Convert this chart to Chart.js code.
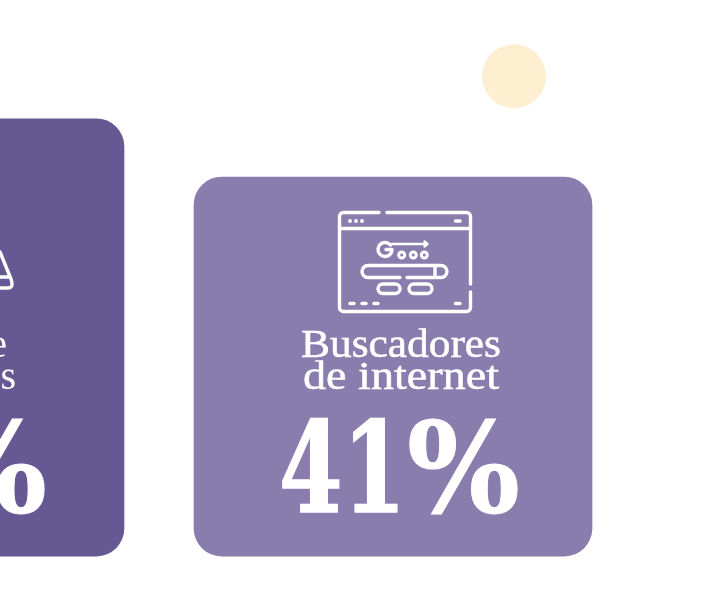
<!DOCTYPE html>
<html lang="es">
<head>
  <meta charset="UTF-8" />
  <title>Buscadores de internet</title>
  <script src="https://cdn.jsdelivr.net/npm/chart.js"></script>
  <style>
    html, body { margin: 0; background: #fff; overflow: hidden; }
    canvas { display: block; }
  </style>
</head>
<body>
  <canvas id="chart" width="712" height="597"></canvas>

  <script>
    // Datos
    const categories = ['Otra fuente', 'Buscadores de internet'];
    const cardSlots = [0, 1];
    const shares = [47.3, 41];
    const cardColors = ['#665993', '#897DAE'];
    const dotX = [1.2585];
    const dotY = [51.9];
    const dotSize = [32];

    const WHITE = '#ffffff';
    const SERIF = '"Liberation Serif", serif';
    const BIG = 'bold 125px "DejaVu Serif", serif';

    // Escribe un texto estirado para que ocupe de left a right
    function fitText(ctx, text, left, right, y, thicken) {
      const w = ctx.measureText(text).width;
      ctx.save();
      ctx.translate(left, y);
      ctx.scale((right - left) / w, 1);
      ctx.textAlign = 'left';
      ctx.fillText(text, 0, 0);
      if (thicken) {
        ctx.strokeStyle = WHITE;
        ctx.lineWidth = thicken;
        ctx.strokeText(text, 0, 0);
      }
      ctx.restore();
    }

    // Icono del navegador y textos de las tarjetas
    const cardLabels = {
      id: 'cardLabels',
      afterDraw(chart) {
        const { ctx } = chart;

        ctx.save();
        ctx.fillStyle = WHITE;
        ctx.textBaseline = 'alphabetic';

        // tarjeta derecha
        ctx.font = '40px ' + SERIF;
        fitText(ctx, 'Buscadores', 301, 501, 357, 0.5);
        fitText(ctx, 'de internet', 303, 499, 389, 0.5);
        ctx.font = BIG;
        fitText(ctx, String(shares[1]), 279, 406, 512, 1.5);
        fitText(ctx, '%', 407, 520, 512, 1);

        // tarjeta izquierda, casi toda fuera de la ventana
        ctx.font = '40px ' + SERIF;
        ctx.textAlign = 'right';
        ctx.fillText('e', 7, 357);
        ctx.fillText('s', 16, 389);
        ctx.font = BIG;
        fitText(ctx, '%', -67, 47, 512, 1);

        drawBrowser(ctx);
        drawLeftIcon(ctx);
        ctx.restore();
      }
    };

    function drawBrowser(ctx) {
      ctx.strokeStyle = WHITE;
      ctx.lineWidth = 3.4;
      ctx.lineCap = 'round';
      ctx.lineJoin = 'round';

      // ventana
      ctx.beginPath();
      ctx.moveTo(379, 212.5);
      ctx.lineTo(343, 212.5);
      ctx.arcTo(339.5, 212.5, 339.5, 216, 4);
      ctx.lineTo(339.5, 308);
      ctx.arcTo(339.5, 311.5, 343, 311.5, 4);
      ctx.lineTo(467, 311.5);
      ctx.arcTo(470.5, 311.5, 470.5, 308, 4);
      ctx.lineTo(470.5, 292);
      ctx.moveTo(470.5, 284);
      ctx.lineTo(470.5, 216);
      ctx.arcTo(470.5, 212.5, 467, 212.5, 4);
      ctx.lineTo(387, 212.5);
      ctx.moveTo(339.5, 228.5);
      ctx.lineTo(470.5, 228.5);
      ctx.stroke();

      // puntos de la cabecera y del pie
      [350, 356, 362].forEach(x => {
        ctx.beginPath();
        ctx.arc(x, 221, 1.9, 0, Math.PI * 2);
        ctx.fill();
      });
      [[455.5, 460, 221], [350, 354, 303.5], [362, 366, 303.5], [374, 378, 303.5], [455.5, 460, 303.5]].forEach(p => {
        ctx.beginPath();
        ctx.moveTo(p[0], p[2]);
        ctx.lineTo(p[1], p[2]);
        ctx.stroke();
      });

      // barra de busqueda
      ctx.beginPath();
      ctx.moveTo(400, 277.5);
      ctx.lineTo(368, 277.5);
      ctx.arcTo(362, 277.5, 362, 271.5, 6);
      ctx.arcTo(362, 265.5, 368, 265.5, 6);
      ctx.lineTo(441, 265.5);
      ctx.arcTo(447, 265.5, 447, 271.5, 6);
      ctx.arcTo(447, 277.5, 441, 277.5, 6);
      ctx.lineTo(407, 277.5);
      ctx.moveTo(435, 265.5);
      ctx.lineTo(435, 277.5);
      ctx.stroke();

      // botones
      [[378, 400], [409, 432]].forEach(b => {
        ctx.beginPath();
        ctx.roundRect(b[0], 284, b[1] - b[0], 9.5, 4.7);
        ctx.stroke();
      });

      // logo
      ctx.lineWidth = 3.4;
      ctx.beginPath();
      ctx.arc(385, 249.5, 7, -0.7, 0, true);
      ctx.lineTo(386, 249.5);
      ctx.stroke();
      ctx.lineWidth = 2.4;
      ctx.beginPath();
      ctx.moveTo(392, 244);
      ctx.lineTo(427, 244);
      ctx.moveTo(424.5, 241.5);
      ctx.lineTo(427.5, 244);
      ctx.lineTo(424.5, 246.5);
      ctx.stroke();
      ctx.lineWidth = 3;
      [401.7, 413.3, 424.3].forEach(x => {
        ctx.beginPath();
        ctx.arc(x, 255, 3, 0, Math.PI * 2);
        ctx.stroke();
      });
    }

    function drawLeftIcon(ctx) {
      ctx.strokeStyle = WHITE;
      ctx.lineWidth = 3.4;
      ctx.lineJoin = 'round';
      ctx.beginPath();
      ctx.moveTo(0, 252);
      ctx.lineTo(11, 279);
      ctx.quadraticCurveTo(14, 288, 8, 288);
      ctx.lineTo(0, 288);
      ctx.moveTo(0, 277);
      ctx.lineTo(10, 277);
      ctx.stroke();
    }

    new Chart(document.getElementById('chart'), {
      data: {
        labels: categories,
        datasets: [
          {
            type: 'bar',
            data: cardSlots.map((x, i) => ({ x: x, y: shares[i] })),
            backgroundColor: cardColors,
            borderRadius: 28,
            borderSkipped: false,
            barThickness: 398,
            grouped: false
          },
          {
            type: 'bubble',
            data: dotX.map((x, i) => ({ x: x, y: dotY[i], r: dotSize[i] })),
            backgroundColor: '#FDEFD0',
            borderWidth: 0
          }
        ]
      },
      options: {
        responsive: false,
        animation: false,
        events: [],
        layout: { padding: 0, autoPadding: false },
        plugins: { legend: { display: false }, tooltip: { enabled: false } },
        scales: {
          x: { type: 'linear', display: false, offset: false, min: 0.16026, max: 1.6816 },
          y: { display: false, min: -4.43, max: 60.15 }
        }
      },
      plugins: [cardLabels]
    });
  </script>
</body>
</html>
